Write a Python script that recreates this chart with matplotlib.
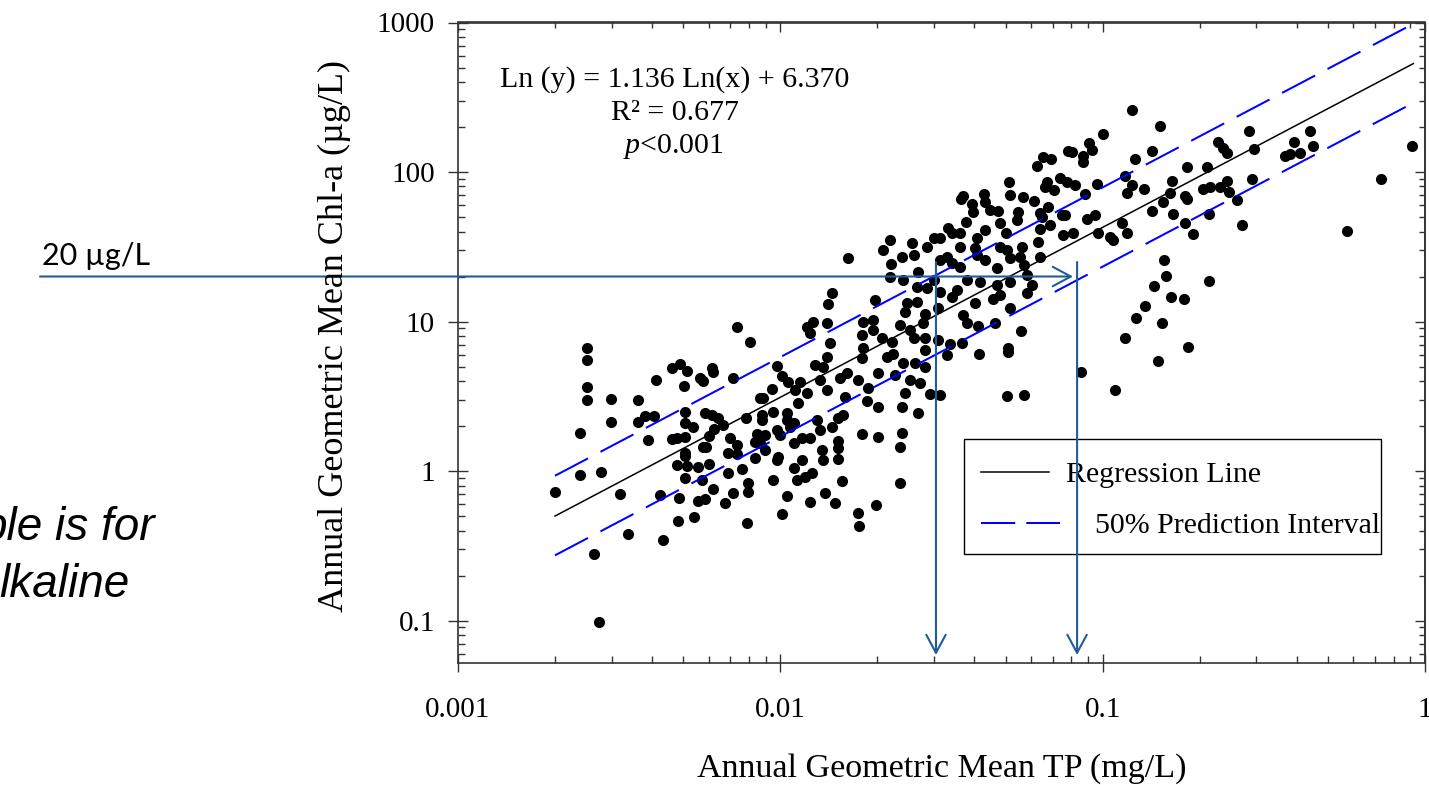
import matplotlib
matplotlib.use('Agg')
import matplotlib.pyplot as plt
from matplotlib import ticker
from matplotlib.lines import Line2D
from matplotlib.patches import Rectangle, FancyArrowPatch

plt.rcParams['font.family'] = ['Liberation Serif', 'DejaVu Serif']
plt.rcParams['mathtext.fontset'] = 'custom'
plt.rcParams['mathtext.rm'] = 'Liberation Serif'
plt.rcParams['mathtext.it'] = 'Liberation Serif:italic'

# annual geometric means (TP in mg/L, Chl-a in ug/L)
tp = [
    0.0219, 0.0208, 0.0162, 0.0221, 0.0219, 0.0145, 0.0141, 0.0197, 0.0121, 0.0126,
    0.0140, 0.0124, 0.0143, 0.0181, 0.0194, 0.0194, 0.0179, 0.00734, 0.00805, 0.00251,
    0.0235, 0.0206, 0.0222,
    # upper right part
    0.123, 0.151, 0.1003, 0.0907, 0.0925, 0.0868, 0.0868, 0.0781, 0.0802, 0.0653,
    0.069, 0.0626, 0.142, 0.126, 0.228, 0.236, 0.243, 0.285, 0.295, 0.393,
    0.44, 0.449, 0.41, 0.381, 0.368, 0.91, 0.729, 0.573, 0.183, 0.211,
    0.164, 0.205, 0.215, 0.231, 0.243, 0.247, 0.261, 0.291, 0.271, 0.18,
    0.183, 0.162, 0.154, 0.165, 0.142, 0.214, 0.18, 0.19, 0.134, 0.123,
    0.119, 0.117, 0.0959, 0.0882, 0.0738, 0.0774, 0.0821, 0.0671, 0.0707, 0.0663,
    0.0513, 0.0516, 0.0565, 0.0612, 0.0368, 0.0364, 0.0427, 0.0432, 0.0393, 0.0397,
    0.0447, 0.0475, 0.0547, 0.0544, 0.0639, 0.0678, 0.0747, 0.0764, 0.0893, 0.0947,
    0.097, 0.1054, 0.108, 0.115, 0.119, 0.0755, 0.0808, 0.0639, 0.0687, 0.0647,
    0.0377, 0.0407, 0.0432, 0.0481, 0.0501, 0.0332, 0.034, 0.0361, 0.0299, 0.0313,
    0.0285, 0.0256, 0.0361, 0.0402, 0.0407, 0.0432, 0.0481, 0.0504, 0.0516, 0.0561,
    0.0554, 0.057, 0.0632, 0.0639, 0.0469, 0.034, 0.0361, 0.0313, 0.0328, 0.0238,
    0.0259, 0.0268, 0.0299, 0.0241, 0.0582, 0.0516, 0.0603, 0.0582, 0.0417, 0.0379,
    0.0353, 0.0469, 0.0481, 0.0458, 0.0402, 0.034, 0.0313, 0.0285, 0.0265, 0.0265,
    0.0247, 0.0516, 0.0557, 0.037, 0.0379, 0.0409, 0.0464, 0.0309, 0.0281, 0.0278,
    0.0253, 0.0244, 0.0309, 0.0336, 0.0366, 0.0281, 0.0259, 0.051, 0.1845, 0.117,
    0.127, 0.135, 0.144, 0.153, 0.163, 0.179, 0.157, 0.155, 0.214,
    # lower right part
    0.149, 0.0857, 0.109, 0.0504, 0.057, 0.051, 0.0414, 0.0328, 0.0281, 0.0281,
    0.0262, 0.0241, 0.0253, 0.0271, 0.0291, 0.0313, 0.0244, 0.0268, 0.0238, 0.0238,
    0.0235, 0.0235,
    # lower left part
    0.00251, 0.00251, 0.00251, 0.00239, 0.00239, 0.00277, 0.0020, 0.00299, 0.00299, 0.00361,
    0.00361, 0.0038, 0.00406, 0.00389, 0.00411, 0.00318, 0.00337, 0.00264, 0.00274, 0.00432,
    0.00423, 0.0046, 0.00489, 0.00513, 0.00504, 0.00612, 0.0062, 0.00564, 0.00577, 0.00715,
    0.00506, 0.00506, 0.00537, 0.0046, 0.00477, 0.00506, 0.00584, 0.00612, 0.00642, 0.00665,
    0.00623, 0.00602, 0.00577, 0.00588, 0.00506, 0.00506, 0.00477, 0.00514, 0.00557, 0.00602,
    0.00506, 0.0057, 0.00617, 0.00486, 0.00557, 0.00584, 0.00483, 0.00541, 0.00673, 0.00715,
    0.00787, 0.00796, 0.00796, 0.00759, 0.0069, 0.00698, 0.0069, 0.00732, 0.00732, 0.00783,
    0.00865, 0.00885, 0.00875, 0.00875, 0.00845, 0.00897, 0.00835, 0.00865, 0.00835, 0.00897,
    0.0094, 0.00975, 0.0101, 0.0106, 0.00951, 0.0105, 0.00975, 0.00998, 0.0107, 0.011,
    0.00975, 0.00986, 0.00947, 0.011, 0.01165, 0.0105, 0.0101, 0.01124, 0.0119, 0.0125,
    0.01236, 0.01376, 0.01478, 0.01557, 0.0136, 0.01344, 0.01514, 0.01514, 0.01514, 0.01444,
    0.01328, 0.01236, 0.01165, 0.011, 0.0105, 0.013, 0.01514, 0.01568, 0.01137, 0.0111,
    0.0121, 0.0115, 0.0128, 0.0136, 0.01393, 0.01328, 0.01393, 0.01532, 0.01587, 0.01607,
    0.01746, 0.01789, 0.01809, 0.01875, 0.01854, 0.0201, 0.0201, 0.01789, 0.0201, 0.01746,
    0.01758, 0.0198, 0.0227, 0.0214, 0.0224,
]
chla = [
    35.1, 30.1, 26.6, 24.2, 19.9, 15.5, 13.1, 13.9, 9.19, 9.92,
    9.77, 8.38, 7.18, 9.9, 10.2, 8.77, 8.12, 9.19, 7.29, 6.65,
    9.48, 7.72, 7.33,
    # upper right part
    260, 204, 180, 157, 140, 127, 117, 139, 137, 126,
    123, 110, 139, 122, 159, 145, 134, 188, 142, 159,
    188, 150, 135, 132, 127, 149, 89.8, 40.3, 108, 108,
    87.1, 76.9, 79, 79.7, 87.4, 73.8, 65, 89.8, 44, 69.1,
    66, 72, 63.3, 52.4, 55.1, 52.4, 45.8, 38.3, 76.6, 81.9,
    72, 94.5, 83.2, 70.9, 91.6, 86.1, 81.9, 86.1, 75.8, 79.7,
    86.1, 70.2, 68.4, 64.3, 69.1, 65.7, 71.3, 63.3, 61.1, 54.2,
    55.7, 55.1, 54.2, 47.7, 53.4, 58.6, 51.6, 51.6, 48.3, 51.6,
    39.3, 36.6, 35.1, 45.8, 39.3, 37.9, 39.3, 41.4, 44.2, 50.2,
    46.5, 36, 40.9, 45.8, 38.9, 42, 38.9, 38.9, 36, 36,
    31.7, 33.7, 31.7, 30.9, 27.9, 25.8, 31.7, 30.1, 26.5, 31.4,
    27.1, 23.9, 33.9, 27.1, 22.7, 24.5, 23.3, 25.8, 27.1, 27.1,
    27.9, 21.5, 19, 19, 20.5, 18.5, 17.5, 15.4, 18.5, 19,
    16.2, 17.5, 15, 14.1, 13.4, 14.7, 15.8, 16.7, 17.1, 13.6,
    13.2, 12.3, 8.68, 11, 9.82, 9.33, 9.82, 12.3, 11.3, 9.72,
    8.77, 11.6, 7.52, 7.07, 7.21, 7.72, 7.72, 6.62, 6.78, 7.72,
    10.5, 12.7, 17.3, 9.82, 14.7, 14.1, 20.2, 25.8, 18.7,
    # lower right part
    5.44, 4.61, 3.48, 3.17, 3.22, 6.28, 6.03, 5.97, 6.45, 4.99,
    5.25, 5.25, 4.06, 3.86, 3.27, 3.22, 3.31, 2.45, 2.69, 1.787,
    1.454, 0.827,
    # lower left part
    5.53, 3.66, 2.985, 1.804, 0.94, 0.99, 0.727, 3.02, 2.14, 2.985,
    2.14, 2.33, 2.33, 1.612, 4.06, 0.699, 0.379, 0.279, 0.0982, 0.3455,
    0.691, 4.86, 5.17, 4.69, 3.70, 4.86, 4.61, 4.17, 4.02, 4.17,
    2.493, 2.084, 1.96, 1.63, 1.654, 1.68, 2.43, 2.37, 2.25, 2.03,
    1.90, 1.714, 1.454, 1.44, 1.313, 1.26, 1.097, 1.08, 1.07, 1.114,
    0.894, 0.871, 0.758, 0.663, 0.63, 0.647, 0.463, 0.495, 0.614, 0.709,
    0.447, 0.727, 0.835, 1.03, 0.974, 1.654, 1.313, 1.493, 1.299, 2.25,
    3.06, 3.06, 2.37, 2.19, 1.767, 1.741, 1.57, 1.532, 1.216, 1.381,
    3.52, 5.04, 4.32, 3.96, 2.493, 2.43, 1.88, 1.741, 1.98, 1.546,
    1.185, 1.235, 0.871, 1.05, 1.185, 0.68, 0.513, 0.871, 0.916, 0.974,
    0.623, 0.709, 0.614, 0.861, 1.185, 1.381, 1.197, 1.419, 1.595, 1.98,
    1.88, 1.654, 1.654, 2.084, 2.19, 2.19, 2.25, 2.37, 2.84, 3.48,
    3.31, 3.96, 5.12, 4.99, 5.815, 4.06, 3.48, 4.17, 3.14, 4.50,
    4.06, 5.67, 6.62, 3.57, 2.95, 4.50, 2.69, 1.767, 1.696, 0.521,
    0.429, 0.593, 4.39, 5.815, 6.06,
]

# regression line and 50% prediction interval (ends)
reg_tp = [0.002, 0.92]
reg_chla = [0.50, 531]
pi_tp = [0.002, 0.92]
pi_upper = [0.93, 980]
pi_lower = [0.273, 290]

# 20 ug/L target and where it meets the prediction band
target_chla = 20
tp_hits = [0.0304, 0.0833]
arrow_start_tp = 5.05e-5
arrow_end_tp = 0.0809
drop_top = 25
drop_bottom = 0.0588

W, H = 1429, 785
blue_ann = '#1f5c99'
axcol = '#333333'

fig = plt.figure(figsize=(W / 100, H / 100), dpi=100)
ax = fig.add_axes([458 / W, 1 - 663 / H, (1425 - 458) / W, (663 - 22.5) / H])
ax.set_facecolor('none')
ax.set_xscale('log')
ax.set_yscale('log')
ax.set_xlim(0.001, 1)
ax.set_ylim(0.052, 1000)

ax.scatter(tp, chla, s=64, c='black', linewidths=0, zorder=3)
ax.plot(reg_tp, reg_chla, color='black', lw=1.1, zorder=4)
for band in (pi_upper, pi_lower):
    ax.plot(pi_tp, band, color='#0000ff', lw=1.45, dashes=(18.5, 7), zorder=4)

# ticks
fmt = ticker.FuncFormatter(lambda v, p: '{:g}'.format(v))
ax.xaxis.set_major_formatter(fmt)
ax.yaxis.set_major_formatter(fmt)
ax.xaxis.set_minor_formatter(ticker.NullFormatter())
ax.yaxis.set_minor_formatter(ticker.NullFormatter())
ax.tick_params(which='major', direction='inout', width=1, color=axcol, labelsize=21)
ax.tick_params(axis='x', which='major', length=13, pad=18)
ax.tick_params(axis='y', which='major', length=14.4, pad=9.5)
ax.tick_params(which='minor', direction='in', length=5, width=1, color=axcol)
for s in ax.spines.values():
    s.set_color(axcol)
    s.set_linewidth(1.2)

secx = ax.secondary_xaxis('top')
secy = ax.secondary_yaxis('right')
for sec, a in ((secx, secx.xaxis), (secy, secy.yaxis)):
    sec.tick_params(which='major', direction='in', length=7, width=1, color=axcol)
    sec.tick_params(which='minor', direction='in', length=4.5, width=1, color=axcol)
    a.set_major_formatter(ticker.NullFormatter())
    a.set_minor_formatter(ticker.NullFormatter())
    for s in sec.spines.values():
        s.set_color(axcol)
        s.set_linewidth(1.2)

# axis titles
fig.text(942 / W, 1 - 777 / H, 'Annual Geometric Mean TP (mg/L)', ha='center', va='baseline', size=24.5)
fig.text(334 / W, 1 - 336 / H, 'Annual Geometric Mean Chl-a (µg/L)', rotation=90,
         ha='center', va='center', size=26)

# regression stats
fig.text(675 / W, 1 - 87 / H, 'Ln (y) = 1.136 Ln(x) + 6.370', ha='center', va='baseline', size=21.5)
fig.text(675 / W, 1 - 120 / H, 'R² = 0.677', ha='center', va='baseline', size=21.5)
fig.text(673 / W, 1 - 153 / H, r'$p$<0.001', ha='center', va='baseline', size=21.5)

# hand made legend, kept under the axes content
fig.add_artist(Rectangle((964 / W, 1 - 554 / H), (1381 - 964) / W, (554 - 439) / H,
                         fill=False, edgecolor='black', lw=1.0, zorder=-1))
fig.add_artist(Line2D([981 / W, 1049 / W], [1 - 472 / H] * 2, color='black', lw=1.1, zorder=-1))
fig.add_artist(Line2D([981 / W, 1060 / W], [1 - 523 / H] * 2, color='#0000ff', lw=1.45,
                      dashes=(17, 5.5), zorder=-1))
fig.text(1066 / W, 1 - 482 / H, 'Regression Line', va='baseline', size=21.5, zorder=-1)
fig.text(1095 / W, 1 - 533 / H, '50% Prediction Interval', va='baseline', size=21.5, zorder=-1)

# 20 ug/L guide arrows
akw = dict(arrowstyle='->,head_length=0.65,head_width=0.35', mutation_scale=20,
           color=blue_ann, lw=1.5, shrinkA=0, shrinkB=0, clip_on=False, zorder=6)
ax.add_patch(FancyArrowPatch((arrow_start_tp, target_chla), (arrow_end_tp, target_chla),
                             transform=ax.transData, **akw))
for xh in tp_hits:
    ax.add_patch(FancyArrowPatch((xh, drop_top), (xh, drop_bottom), transform=ax.transData, **akw))

fig.text(42 / W, 1 - 265 / H, '20 µg/L', family=['Lato', 'DejaVu Sans'], size=22, va='baseline')
fig.text(155 / W, 1 - 540 / H, 'ple is for', ha='right', va='baseline',
         family='Liberation Sans', style='italic', size=33)
fig.text(130 / W, 1 - 597 / H, 'lkaline', ha='right', va='baseline',
         family='Liberation Sans', style='italic', size=33)

plt.savefig('out.png', dpi=100)
